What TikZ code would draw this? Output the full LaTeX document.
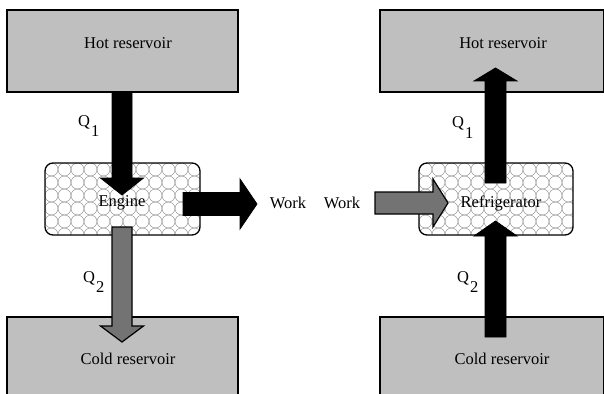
\documentclass[tikz,border=0pt]{standalone}
\usepackage{fontspec}
\setmainfont{Liberation Serif}
\begin{document}
\begin{tikzpicture}[x=1pt,y=-1pt,
  reservoir/.style={draw=black,line width=1.3pt,fill=black!25,inner sep=0pt},
  device/.style={draw=black,line width=1.3pt,rounded corners=8pt,inner sep=0pt},
  lbl/.style={font=\fontsize{16.5}{19}\selectfont,inner sep=0pt},
  blackarr/.style={fill=black,draw=black,line width=0.8pt,line join=miter},
  grayarr/.style={fill=black!55,draw=black,line width=1.2pt,line join=miter}]
\newcommand\varr[6]{% style, x, half shaft, tail y, head base y, tip y ; head half 21.5
  \path[#1] (#2-#3,#4) -- (#2-#3,#5) -- (#2-21.5,#5) -- (#2,#6) -- (#2+21.5,#5) -- (#2+#3,#5) -- (#2+#3,#4) -- cycle;}
\newcommand\harr[7]{% style, y, half shaft, tail x, head base x, tip x, head half
  \path[#1] (#4,#2-#3) -- (#5,#2-#3) -- (#5,#2-#7) -- (#6,#2) -- (#5,#2+#7) -- (#5,#2+#3) -- (#4,#2+#3) -- cycle;}
\useasboundingbox (0,0) rectangle (604,393);
\clip (0,0) rectangle (604,393);
% reservoirs
\node[reservoir,minimum width=231pt,minimum height=82pt] (hotL) at (122.5,51) {};
\node[reservoir,minimum width=224pt,minimum height=82pt] (hotR) at (492,51) {};
\node[reservoir,minimum width=231pt,minimum height=90pt] (coldL) at (122.5,362) {};
\node[reservoir,minimum width=224pt,minimum height=90pt] (coldR) at (492,362) {};
\node[lbl] (hotLt) at (128,43) {Hot reservoir};
\node[lbl] (hotRt) at (503,43) {Hot reservoir};
\node[lbl] (coldLt) at (128,359) {Cold reservoir};
\node[lbl] (coldRt) at (502,359) {Cold reservoir};
% devices
\foreach \nm/\xa/\xb in {eng/45/200,ref/419/573}{
  \begin{scope}
    \path[fill=white] (\xa,163) [rounded corners=8pt] rectangle (\xb,235);
    \clip[rounded corners=8pt] (\xa,163) rectangle (\xb,235);
    \foreach \i in {0,...,12} \foreach \j in {0,...,5}
      \draw[black!40,line width=0.5pt] (\xa+6.5+\i*13,163+6.5+\j*13) circle (6.5);
  \end{scope}
  \draw[device] (\xa,163) rectangle (\xb,235);
}
\node[lbl] (engt) at (122,203) {Engine};
\node[lbl] (reft) at (501,203) {Refrigerator};
% arrows
\varr{blackarr}{122}{10}{92}{178}{195}
\varr{grayarr}{122}{10}{227}{326}{342}
\varr{blackarr}{495.5}{10.5}{183}{81}{68}
\varr{blackarr}{495.5}{10.5}{337}{236}{221}
\harr{blackarr}{204}{11.5}{183}{240}{257}{25}
\harr{grayarr}{203}{11}{375}{433}{448}{24}
% labels
\node[lbl] (wL) at (288,203) {Work};
\node[lbl] (wR) at (342,203) {Work};
\node[lbl,anchor=base west] (q1L) at (78,126) {Q\kern1pt\raisebox{-10pt}{1}};
\node[lbl,anchor=base west] (q1R) at (452,128) {Q\kern1pt\raisebox{-10pt}{1}};
\node[lbl,anchor=base west] (q2L) at (83,282) {Q\kern1pt\raisebox{-10pt}{2}};
\node[lbl,anchor=base west] (q2R) at (457,282) {Q\kern1pt\raisebox{-10pt}{2}};
\end{tikzpicture}
\end{document}
